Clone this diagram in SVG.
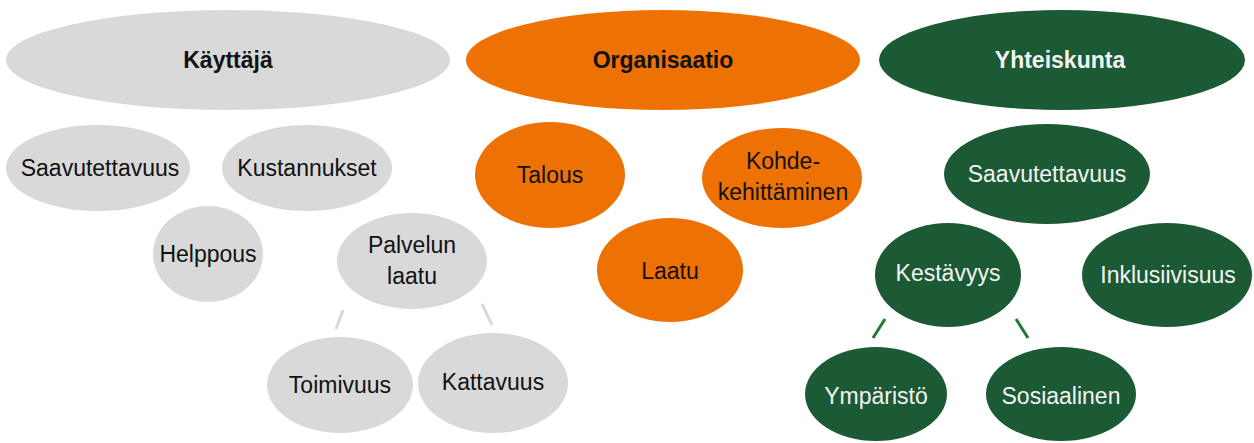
<svg xmlns="http://www.w3.org/2000/svg" width="1254" height="443" viewBox="0 0 1254 443">
  <defs>
    <style>
      text { font-family: "Liberation Sans", Arial, sans-serif; font-size: 23px; text-anchor: middle; dominant-baseline: central; }
      .title { font-weight: bold; font-size: 23px; }
      .grey ellipse { fill: #d9d9d9; }
      .orange ellipse { fill: #ee7203; }
      .green ellipse { fill: #1b5a34; }
      .grey text, .orange text { fill: #111111; }
      .green text { fill: #f4f4f4; }
      .link-grey { stroke: #d9d9d9; stroke-width: 3; }
      .link-green { stroke: #1f7a35; stroke-width: 3; }
    </style>
  </defs>
  <rect width="1254" height="443" fill="#ffffff"/>

  <!-- connectors -->
  <g id="connectors">
    <line class="link-grey" x1="343" y1="310" x2="336" y2="329"/>
    <line class="link-grey" x1="482" y1="304" x2="492" y2="325"/>
    <line class="link-green" x1="885" y1="319" x2="873" y2="338"/>
    <line class="link-green" x1="1016" y1="319" x2="1028" y2="338"/>
  </g>

  <!-- user column -->
  <g class="grey">
    <g id="kayttaja"><ellipse cx="228" cy="60" rx="222" ry="50"/><text class="title" x="228" y="60">Käyttäjä</text></g>
    <g id="saavutettavuus-user"><ellipse cx="98" cy="168" rx="92" ry="43"/><text x="100" y="168">Saavutettavuus</text></g>
    <g id="kustannukset"><ellipse cx="307" cy="168" rx="85" ry="43"/><text x="307" y="168">Kustannukset</text></g>
    <g id="helppous"><ellipse cx="208" cy="254" rx="55" ry="48"/><text x="208" y="254">Helppous</text></g>
    <g id="palvelun-laatu"><ellipse cx="412" cy="261" rx="75" ry="48"/><text x="412" y="245">Palvelun</text><text x="412" y="276">laatu</text></g>
    <g id="toimivuus"><ellipse cx="340" cy="385" rx="73" ry="48"/><text x="340" y="385">Toimivuus</text></g>
    <g id="kattavuus"><ellipse cx="493" cy="383" rx="75" ry="50"/><text x="493" y="382">Kattavuus</text></g>
  </g>

  <!-- organisation column -->
  <g class="orange">
    <g id="organisaatio"><ellipse cx="663" cy="60" rx="197" ry="50"/><text class="title" x="663" y="60">Organisaatio</text></g>
    <g id="talous"><ellipse cx="550" cy="175" rx="75" ry="53"/><text x="550" y="175">Talous</text></g>
    <g id="kohdekehittaminen"><ellipse cx="782" cy="178" rx="80" ry="50"/><text x="783" y="161">Kohde-</text><text x="783" y="192">kehittäminen</text></g>
    <g id="laatu"><ellipse cx="670" cy="270" rx="73" ry="52"/><text x="670" y="271">Laatu</text></g>
  </g>

  <!-- society column -->
  <g class="green">
    <g id="yhteiskunta"><ellipse cx="1062" cy="60" rx="183" ry="50"/><text class="title" x="1060" y="60">Yhteiskunta</text></g>
    <g id="saavutettavuus-society"><ellipse cx="1047" cy="174" rx="103" ry="50"/><text x="1047" y="174">Saavutettavuus</text></g>
    <g id="kestavyys"><ellipse cx="948" cy="275" rx="73" ry="52"/><text x="948" y="273">Kestävyys</text></g>
    <g id="inklusiivisuus"><ellipse cx="1167" cy="275" rx="85" ry="52"/><text x="1168" y="275">Inklusiivisuus</text></g>
    <g id="ymparisto"><ellipse cx="876" cy="394" rx="71" ry="47"/><text x="876" y="396">Ympäristö</text></g>
    <g id="sosiaalinen"><ellipse cx="1061" cy="394" rx="75" ry="47"/><text x="1061" y="396">Sosiaalinen</text></g>
  </g>
</svg>
